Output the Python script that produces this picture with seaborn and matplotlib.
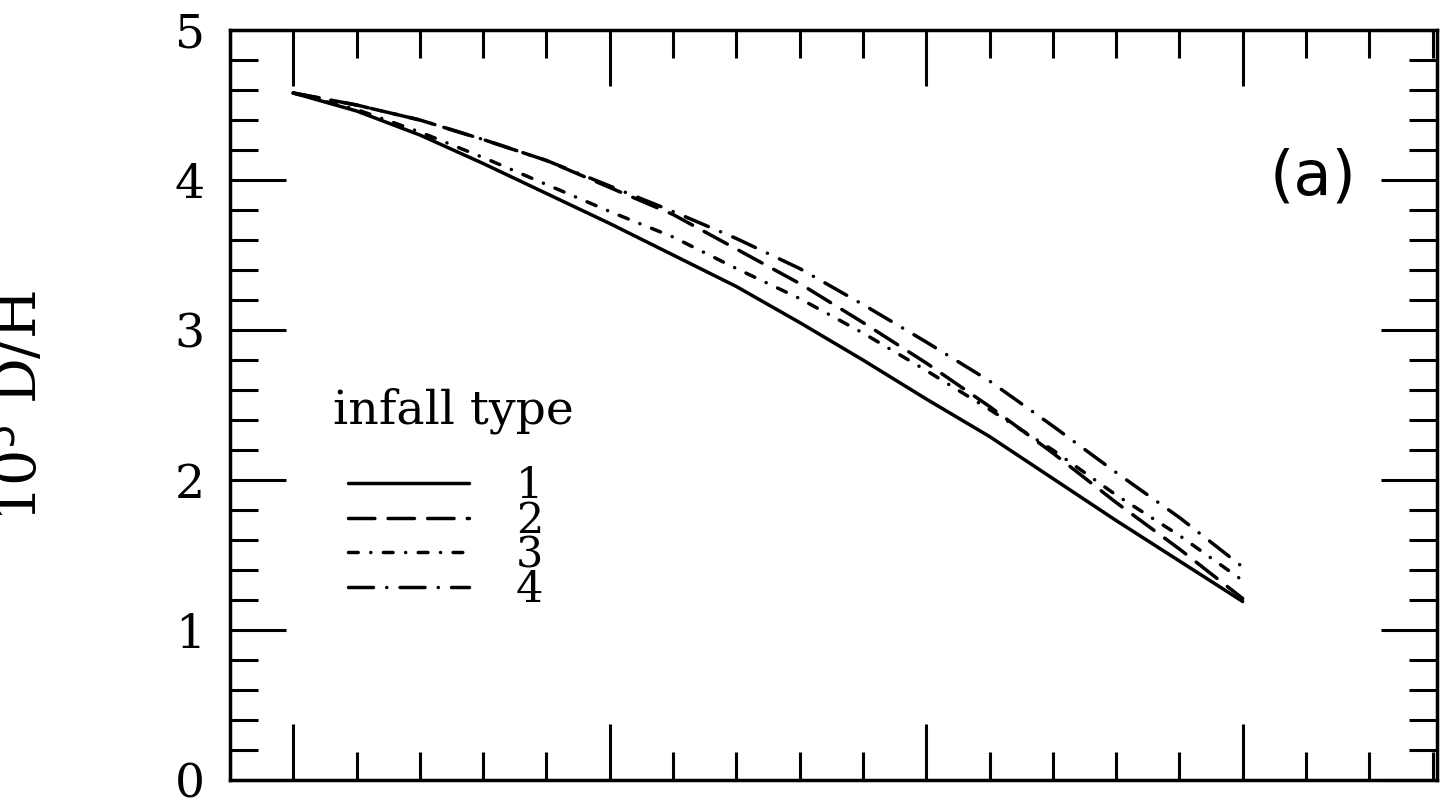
import matplotlib
matplotlib.use("Agg")
import matplotlib.pyplot as plt
from matplotlib.ticker import MultipleLocator, NullFormatter
import pandas as pd
import seaborn as sns

# Deuterium abundance (10^5 D/H) versus time (Gyr) for four infall prescriptions
time_gyr = [0, 1, 2, 3, 4, 5, 6, 7, 8, 9, 10, 11, 12, 13, 14, 15]
dh_type1 = [4.58, 4.46, 4.30, 4.11, 3.91, 3.71, 3.50, 3.29, 3.05, 2.80, 2.54, 2.29, 2.01, 1.73, 1.46, 1.19]
dh_type2 = [4.58, 4.50, 4.40, 4.27, 4.13, 3.95, 3.77, 3.54, 3.31, 3.05, 2.78, 2.49, 2.18, 1.85, 1.54, 1.21]
dh_type3 = [4.58, 4.47, 4.32, 4.15, 3.97, 3.79, 3.62, 3.41, 3.21, 2.98, 2.73, 2.47, 2.20, 1.90, 1.63, 1.33]
dh_type4 = [4.58, 4.50, 4.40, 4.27, 4.13, 3.96, 3.79, 3.61, 3.41, 3.17, 2.92, 2.66, 2.36, 2.05, 1.75, 1.42]
infall_types = ["1", "2", "3", "4"]

frames = []
for name, vals in zip(infall_types, [dh_type1, dh_type2, dh_type3, dh_type4]):
    frames.append(pd.DataFrame({"time": time_gyr, "dh": vals, "infall": name}))
df = pd.concat(frames, ignore_index=True)

# dash patterns in points (round caps add the line width to each dash)
line_styles = {
    "1": "-",
    "2": (0, (19, 9.5)),
    "3": (0, (7, 9, 0.1, 9)),
    "4": (0, (18, 9.5, 0.1, 9.5)),
}

sns.set_style("ticks")
plt.rcParams.update({
    "font.family": ["DejaVu Serif"],
    "lines.scale_dashes": False,
    "axes.linewidth": 2.5,
    "axes.edgecolor": "black",
    "text.color": "black",
    "axes.labelcolor": "black",
    "xtick.color": "black",
    "ytick.color": "black",
})

fig = plt.figure(figsize=(14.52, 8.07), dpi=100)
ax = fig.add_axes([230 / 1452, 27 / 807, 1207 / 1452, 750 / 807])

for name in infall_types:
    sub = df[df["infall"] == name]
    sns.lineplot(data=sub, x="time", y="dh", ax=ax, color="black",
                 linewidth=2.5, linestyle=line_styles[name],
                 dash_capstyle="round", solid_capstyle="round",
                 label=name, legend=False)

ax.set_xlim(-1.0, 18.07)
ax.set_ylim(0, 5)
ax.xaxis.set_major_locator(MultipleLocator(5))
ax.xaxis.set_minor_locator(MultipleLocator(1))
ax.yaxis.set_major_locator(MultipleLocator(1))
ax.yaxis.set_minor_locator(MultipleLocator(0.2))
ax.xaxis.set_major_formatter(NullFormatter())
ax.set_xlabel("")
ax.set_ylabel("")

ax.tick_params(which="both", direction="in", top=True, right=True,
               width=2.2, color="black", labelcolor="black", labelbottom=False)
ax.tick_params(which="major", length=40, labelsize=34, pad=18)
ax.tick_params(which="minor", length=20)
for spine in ax.spines.values():
    spine.set_linewidth(2.5)

# legend: title text plus the four line samples
ax.text(0.0853, 0.476, "infall type", transform=ax.transAxes,
        fontsize=34, ha="left", va="baseline")
handles, labels = ax.get_legend_handles_labels()
ax.legend(handles, labels, loc="upper left", bbox_to_anchor=(0.0978, 0.420),
          frameon=False, fontsize=31, handlelength=2.8, handletextpad=1.1,
          labelspacing=-0.17, borderpad=0, borderaxespad=0)

ax.text(0.897, 0.803, "(a)", transform=ax.transAxes, fontsize=45,
        family="DejaVu Sans", ha="center", va="center")

fig.text(37 / 1452, (807 - 406) / 807, r"10$^5$ D/H", rotation=90,
         rotation_mode="anchor", ha="center", va="baseline", fontsize=41)

fig.savefig("out.png", dpi=100, facecolor="white")
